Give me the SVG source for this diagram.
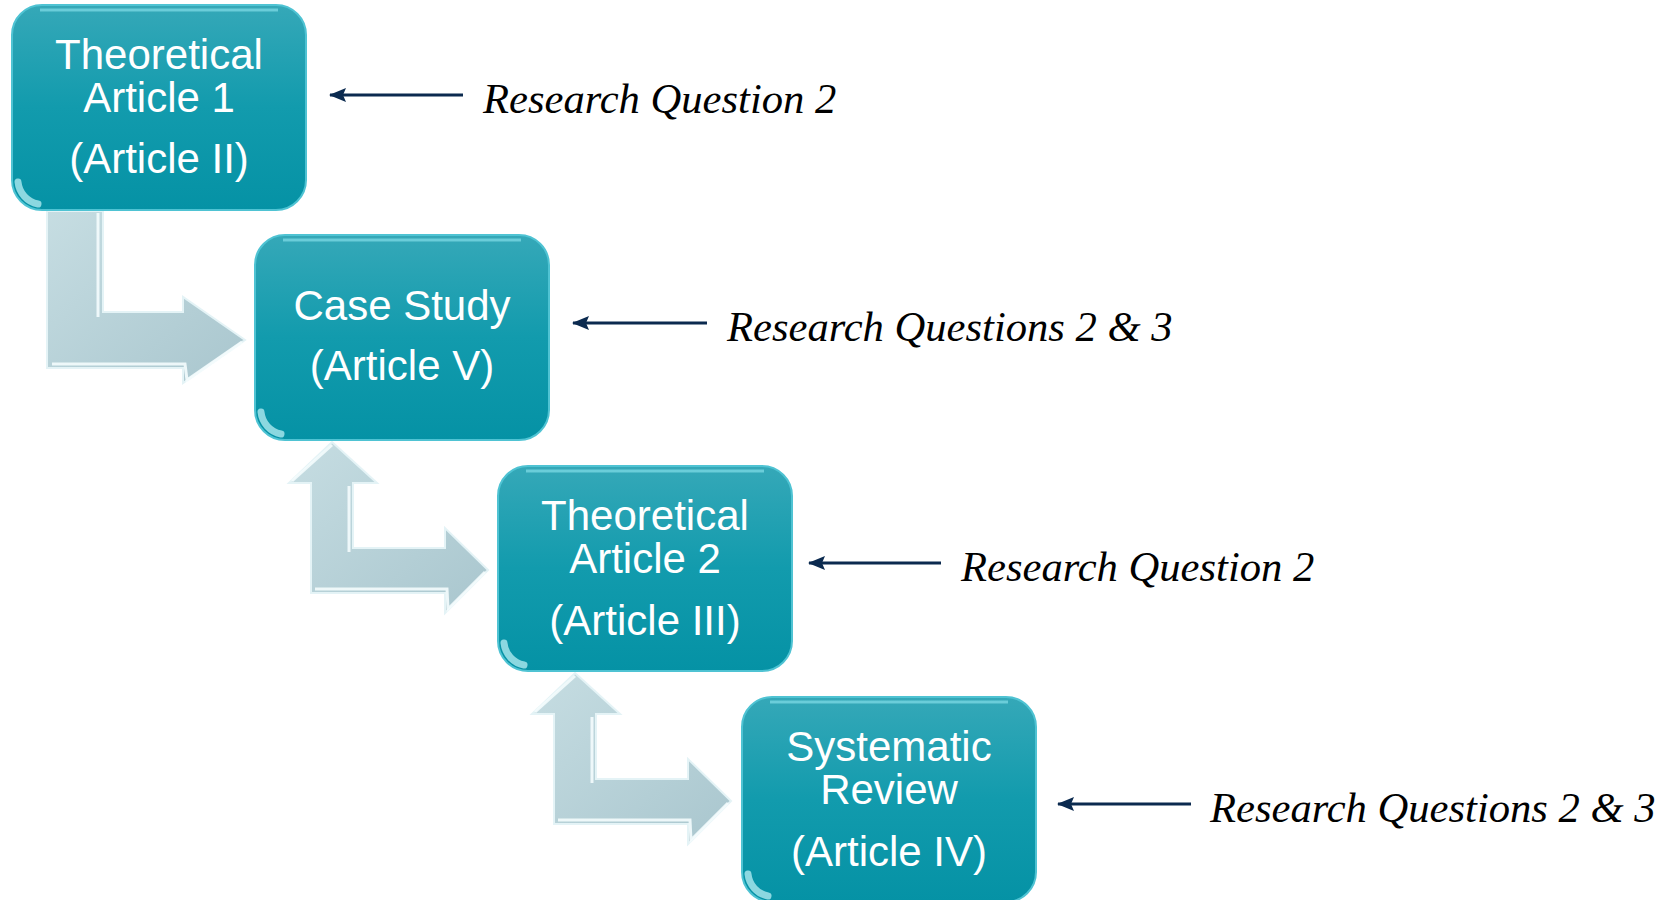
<svg xmlns="http://www.w3.org/2000/svg" width="1662" height="900" viewBox="0 0 1662 900">
<style>
.bt{font-family:"Liberation Sans",Arial,sans-serif;font-size:42px;fill:#ffffff;text-anchor:middle}
.rq{font-family:"Liberation Serif","Times New Roman",serif;font-style:italic;font-size:42.6px;fill:#000000}
.cl{stroke:#0B2A4F;stroke-width:3;fill:none;marker-end:url(#ah)}
.box{fill:url(#bg);stroke:#4FC3D3;stroke-width:2}
.gl{fill:none;stroke:#8FE6F0;stroke-width:3;opacity:0.6}
.sp{fill:none;stroke:#C4F5FA;stroke-width:7;stroke-linecap:round;opacity:0.7}
.ar{fill:url(#ag);stroke:#E4F3F6;stroke-width:2}
.arh{fill:none;stroke:#F4FCFD;stroke-width:3;opacity:0.9}
</style>
<defs>
<linearGradient id="bg" x1="0" y1="0" x2="0" y2="1">
<stop offset="0" stop-color="#35A8B8"/>
<stop offset="0.5" stop-color="#129BAD"/>
<stop offset="1" stop-color="#0592A5"/>
</linearGradient>
<linearGradient id="ag" x1="0" y1="0" x2="1" y2="1">
<stop offset="0" stop-color="#C6DDE2"/>
<stop offset="1" stop-color="#A9C6CE"/>
</linearGradient>
<marker id="ah" markerWidth="17" markerHeight="14" refX="16" refY="7" orient="auto" markerUnits="userSpaceOnUse">
<path d="M0,0 L17,7 L0,14 L3,7 Z" fill="#0B2A4F"/>
</marker>
</defs>

<g id="connectors">
<g id="bent1">
<polygon class="ar" points="47,211 103,211 103,312 183,312 183,297 245,340 183,383 183,368 47,368"/>
<polyline class="arh" points="98,213 98,317"/>
<polyline class="arh" points="52,364 185,364 187,380 242,342"/>
</g>
<g id="bent2">
<polygon class="ar" points="332,442 377,483 353,483 353,548 445,548 445,528 488,570 445,613 445,593 311,593 311,483 289,483"/>
<polyline class="arh" points="292,481 332,445"/>
<polyline class="arh" points="349,486 349,552"/>
<polyline class="arh" points="315,589 447,589 448,609 485,572"/>
</g>
<g id="bent3" transform="translate(243,231)">
<polygon class="ar" points="332,442 377,483 353,483 353,548 445,548 445,528 488,570 445,613 445,593 311,593 311,483 289,483"/>
<polyline class="arh" points="292,481 332,445"/>
<polyline class="arh" points="349,486 349,552"/>
<polyline class="arh" points="315,589 447,589 448,609 485,572"/>
</g>
<line class="cl" x1="463" y1="95" x2="330" y2="95"/>
<line class="cl" x1="707" y1="323" x2="573" y2="323"/>
<line class="cl" x1="941" y1="563" x2="809" y2="563"/>
<line class="cl" x1="1191" y1="804" x2="1058" y2="804"/>
</g>

<g id="node1">
<rect class="box" x="12" y="5" width="294" height="205" rx="30"/>
<path class="gl" d="M40,10 H278"/>
<path class="sp" d="M18,182 A25 25 0 0 0 38,204"/>
<text class="bt" x="159" y="69">Theoretical</text>
<text class="bt" x="159" y="112">Article 1</text>
<text class="bt" x="159" y="173">(Article II)</text>
</g>
<g id="node2">
<rect class="box" x="255" y="235" width="294" height="205" rx="30"/>
<path class="gl" d="M283,240 H521"/>
<path class="sp" d="M261,412 A25 25 0 0 0 281,434"/>
<text class="bt" x="402" y="320">Case Study</text>
<text class="bt" x="402" y="380">(Article V)</text>
</g>
<g id="node3">
<rect class="box" x="498" y="466" width="294" height="205" rx="30"/>
<path class="gl" d="M526,471 H764"/>
<path class="sp" d="M504,643 A25 25 0 0 0 524,665"/>
<text class="bt" x="645" y="530">Theoretical</text>
<text class="bt" x="645" y="573">Article 2</text>
<text class="bt" x="645" y="635">(Article III)</text>
</g>
<g id="node4">
<rect class="box" x="742" y="697" width="294" height="205" rx="30"/>
<path class="gl" d="M770,702 H1008"/>
<path class="sp" d="M748,874 A25 25 0 0 0 768,896"/>
<text class="bt" x="889" y="761">Systematic</text>
<text class="bt" x="889" y="804">Review</text>
<text class="bt" x="889" y="866">(Article IV)</text>
</g>

<g id="labels">
<text class="rq" x="483" y="113">Research Question 2</text>
<text class="rq" x="727" y="341">Research Questions 2 &amp; 3</text>
<text class="rq" x="961" y="581">Research Question 2</text>
<text class="rq" x="1210" y="822">Research Questions 2 &amp; 3</text>
</g>
</svg>
